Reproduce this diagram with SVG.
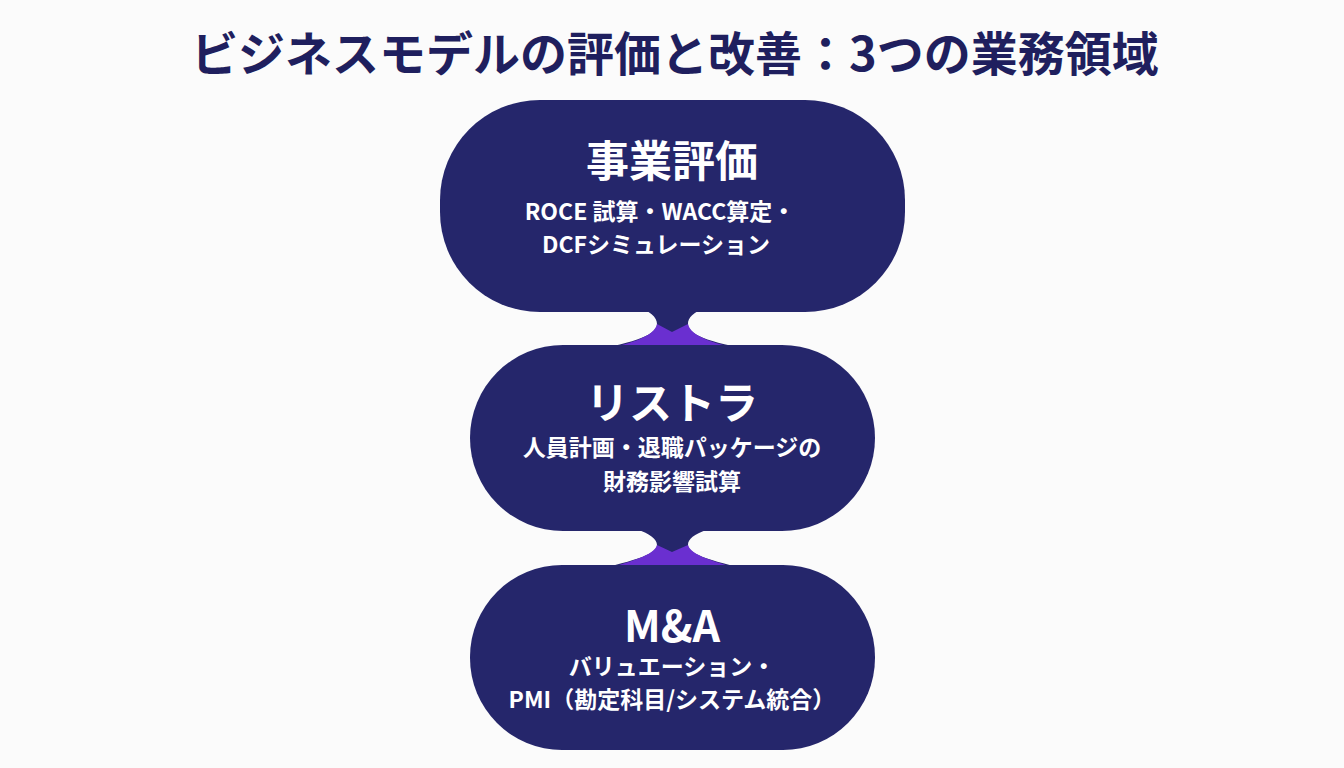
<svg xmlns="http://www.w3.org/2000/svg" width="1344" height="768" viewBox="0 0 1344 768">
<style>
.n{fill:#25266b}.p{fill:#6a2fd0}
.t{font-family:"Noto Sans CJK JP","Noto Sans",sans-serif;font-weight:700;text-anchor:middle;fill:#fff}
.h{font-size:43px}.s{font-size:23px}
</style>
<rect width="1344" height="768" fill="#fbfbfb"/>
<text x="675" y="71" class="t" style="font-size:47px;fill:#1f1f5e">ビジネスモデルの評価と改善：3つの業務領域</text>
<g id="connectors">
<path class="n" d="M560,290 C630,300 657,310 657,324 C657,336 630,344 580,352 L765,352 C715,344 688,336 688,324 C688,310 715,300 785,290 Z"/>
<path class="p" d="M590,352 C630,345 655,336 657,324 L672,332 L688,324 C690,336 715,345 755,352 Z"/>
<path class="n" d="M575,515 C630,525 657,533 657,545 C657,555 630,562 585,572 L760,572 C715,562 688,555 688,545 C688,533 715,525 770,515 Z"/>
<path class="p" d="M595,572 C630,562 655,555 657,545 L672,552 L688,545 C690,555 715,562 750,572 Z"/>
</g>
<g id="node1"><rect class="n" x="440" y="100" width="465" height="212" rx="100"/>
<text x="672" y="177" class="t h">事業評価</text>
<text x="660" y="220" class="t s">ROCE 試算・WACC算定・</text>
<text x="656" y="253" class="t s">DCFシミュレーション</text></g>
<g id="node2"><rect class="n" x="470" y="345" width="405" height="186" rx="93"/>
<text x="672" y="419" class="t h">リストラ</text>
<text x="672" y="456" class="t s">人員計画・退職パッケージの</text>
<text x="672" y="490" class="t s">財務影響試算</text></g>
<g id="node3"><rect class="n" x="470" y="565" width="405" height="185" rx="92"/>
<text x="672" y="642" class="t h">M&amp;A</text>
<text x="672" y="675" class="t s">バリュエーション・</text>
<text x="672" y="708" class="t s">PMI（勘定科目/システム統合）</text></g>
</svg>
